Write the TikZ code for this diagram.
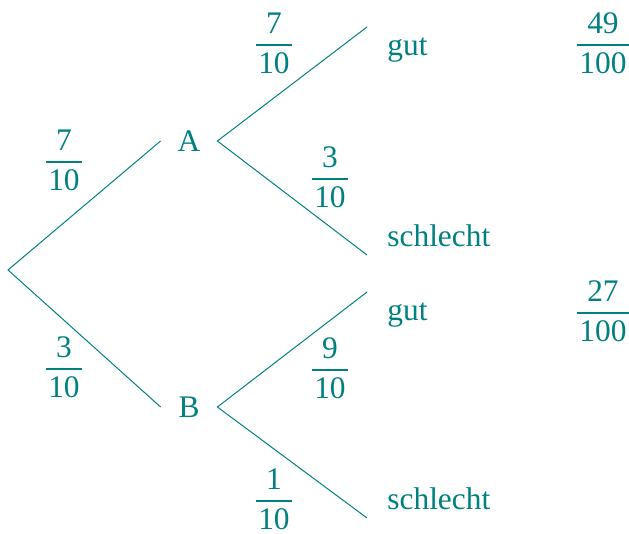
\documentclass[tikz,border=0pt]{standalone}
\usepackage{amssymb, amsmath}
\usepackage{fontspec}
\setmainfont{Liberation Serif}
\usepackage{tikz}
\usetikzlibrary{positioning}
\definecolor{teal}{RGB}{0, 128, 128}
\newcommand{\prob}[2]{$\genfrac{}{}{1pt}{0}{\text{#1}}{\kern1.2pt\text{#2}\kern1.2pt}$}

\begin{document}
\begin{tikzpicture}[x=0.5pt, y=-0.5pt, every node/.style={teal, font=\fontsize{15.7}{19}\selectfont}]

  \useasboundingbox (0, 0) rectangle (629, 534);

  \coordinate (root) at (8, 270);
  \node[inner sep=0pt, minimum width=28pt] (A) at (189, 141) {A};
  \node[inner sep=0pt, minimum width=28pt] (B) at (189, 407) {B};

  \coordinate (Agut) at (367, 27);
  \coordinate (Aschlecht) at (367, 255);
  \coordinate (Bgut) at (367, 292);
  \coordinate (Bschlecht) at (367, 518);

  \draw[teal, line width=0.5] (A.west) -- (root) -- (B.west);
  \draw[teal, line width=0.5] (Agut) -- (A.east) -- (Aschlecht);
  \draw[teal, line width=0.5] (Bgut) -- (B.east) -- (Bschlecht);

  \node[anchor=base west, inner sep=0pt] (tgutA) at (387, 56) {gut};
  \node[anchor=base west, inner sep=0pt] (tschlechtA) at (387, 247) {schlecht};
  \node[anchor=base west, inner sep=0pt] (tgutB) at (387, 321) {gut};
  \node[anchor=base west, inner sep=0pt] (tschlechtB) at (387, 510) {schlecht};

  \node (pA) at (64, 160) {\prob{7}{10}};
  \node (pB) at (64, 367) {\prob{3}{10}};
  \node (pAgut) at (274, 43) {\prob{7}{10}};
  \node (pAschlecht) at (330, 177) {\prob{3}{10}};
  \node (pBgut) at (330, 368) {\prob{9}{10}};
  \node (pBschlecht) at (274, 499) {\prob{1}{10}};

  \node (rAgut) at (603, 43) {\prob{49}{100}};
  \node (rBgut) at (603, 311) {\prob{27}{100}};

\end{tikzpicture}
\end{document}
